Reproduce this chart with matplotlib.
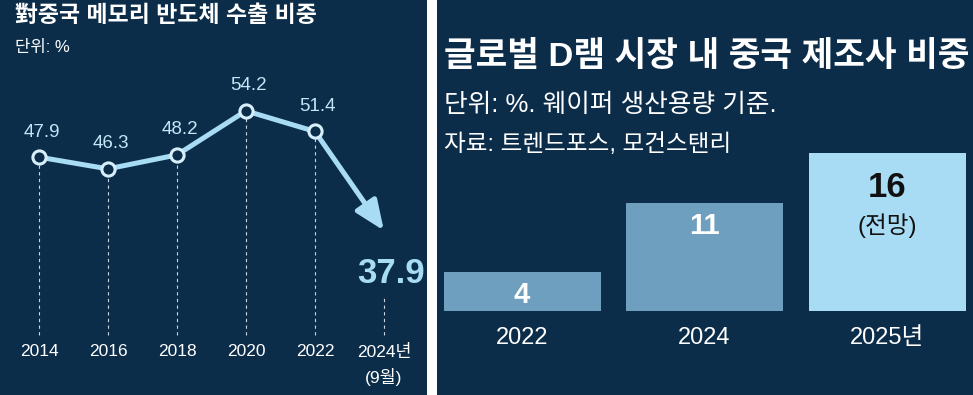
import matplotlib
matplotlib.use('Agg')
import matplotlib.pyplot as plt

# 글꼴: 숫자는 Liberation Sans, 한글은 Noto Sans CJK KR 로 넘어감
plt.rcParams['font.family'] = ['Liberation Sans', 'Noto Sans CJK KR', 'DejaVu Sans']

NAVY = '#0c2d4a'
SKY = '#a8dcf4'
MID = '#6f9fbf'
LABEL = '#c4e6f7'

# 왼쪽: 對중국 메모리 반도체 수출 비중
years = [2014, 2016, 2018, 2020, 2022, 2024]
shares = [47.9, 46.3, 48.2, 54.2, 51.4, 37.9]
year_labels = ['2014', '2016', '2018', '2020', '2022', '2024년\n(9월)']

# 오른쪽: 글로벌 D램 시장 내 중국 제조사 비중
bar_years = ['2022', '2024', '2025년']
dram_share = [4, 11, 16]

fig = plt.figure(figsize=(9.73, 3.95), dpi=100)
fig.patch.set_facecolor('white')


def clean(ax):
    ax.set_facecolor(NAVY)
    ax.set_xticks([])
    ax.set_yticks([])
    for s in ax.spines.values():
        s.set_visible(False)


# ---------------- 왼쪽 패널 ----------------
ax1 = fig.add_axes([0, 0, 427 / 973, 1])
clean(ax1)
ax1.set_xlim(2012.87, 2025.25)
ax1.set_ylim(15.5, 69.3)

ax1.text(0.035, 0.962, '對중국 메모리 반도체 수출 비중', transform=ax1.transAxes,
         fontsize=16.5, fontweight='bold', color='white', va='center', ha='left')
ax1.text(0.035, 0.881, '단위: %', transform=ax1.transAxes,
         fontsize=12, color='white', va='center', ha='left')

# 점선 (세로)
ax1.vlines(years[:5], 23.7, shares[:5], colors='#c8d4de', lw=0.8,
           linestyles=(0, (3, 3)), zorder=1)
ax1.vlines(years[5], 23.7, 29.1, colors='#c8d4de', lw=0.8,
           linestyles=(0, (3, 3)), zorder=1)

# 화살표 (2022 -> 2024)
ax1.annotate('', xy=(years[5], shares[5]), xytext=(years[4], shares[4]),
             arrowprops=dict(arrowstyle='-|>,head_length=0.9,head_width=0.38',
                             color=SKY, lw=3.6, shrinkA=0, shrinkB=0,
                             mutation_scale=20), zorder=2)

ax1.plot(years[:5], shares[:5], color=SKY, lw=3.6, marker='o', ms=9.5,
         mfc=NAVY, mec='#d6effa', mew=2.2, zorder=3)

for x, v in zip(years[:5], shares[:5]):
    ax1.annotate(f'{v}', (x, v), xytext=(2, 18), textcoords='offset points',
                 ha='center', va='center', color=LABEL, fontsize=13.5)

ax1.annotate(f'{shares[5]}', (years[5], shares[5]), xytext=(5, -31),
             textcoords='offset points', ha='center', va='center',
             color=SKY, fontsize=25, fontweight='bold')

for x, lab in zip(years, year_labels):
    ax1.text(x, 0.129, lab, transform=ax1.get_xaxis_transform(),
             ha='center', va='top', color='white', fontsize=12.5,
             linespacing=1.5)

# ---------------- 오른쪽 패널 ----------------
ax2 = fig.add_axes([437 / 973, 0, 536 / 973, 1])
clean(ax2)
ax2.set_xlim(-0.466, 2.471)
ax2.set_ylim(-8.53, 31.57)

ax2.text(0.013, 0.856, '글로벌 D램 시장 내 중국 제조사 비중', transform=ax2.transAxes,
         fontsize=24.8, fontweight='bold', color='white', va='center', ha='left')
ax2.text(0.013, 0.734, '단위: %. 웨이퍼 생산용량 기준.', transform=ax2.transAxes,
         fontsize=18.5, color='white', va='center', ha='left')
ax2.text(0.013, 0.633, '자료: 트렌드포스, 모건스탠리', transform=ax2.transAxes,
         fontsize=17, color='white', va='center', ha='left')

xs = list(range(len(bar_years)))
ax2.bar(xs, dram_share, width=0.86, color=[MID, MID, SKY], zorder=2)

for x, v in zip(xs[:2], dram_share[:2]):
    ax2.annotate(str(v), (x, v), xytext=(0, -17), textcoords='offset points',
                 ha='center', va='center', color='white', fontsize=21,
                 fontweight='bold')
ax2.annotate(str(dram_share[2]), (xs[2], dram_share[2]), xytext=(0, -24.5),
             textcoords='offset points', ha='center', va='center',
             color='#111111', fontsize=25, fontweight='bold')
ax2.annotate('(전망)', (xs[2], dram_share[2]), xytext=(0, -52),
             textcoords='offset points', ha='center', va='center',
             color='#111111', fontsize=17)

for x, lab in zip(xs, bar_years):
    ax2.text(x, 0.144, lab, transform=ax2.get_xaxis_transform(),
             ha='center', va='center', color='white', fontsize=17)

fig.savefig('out.png', dpi=100, facecolor=fig.get_facecolor())
